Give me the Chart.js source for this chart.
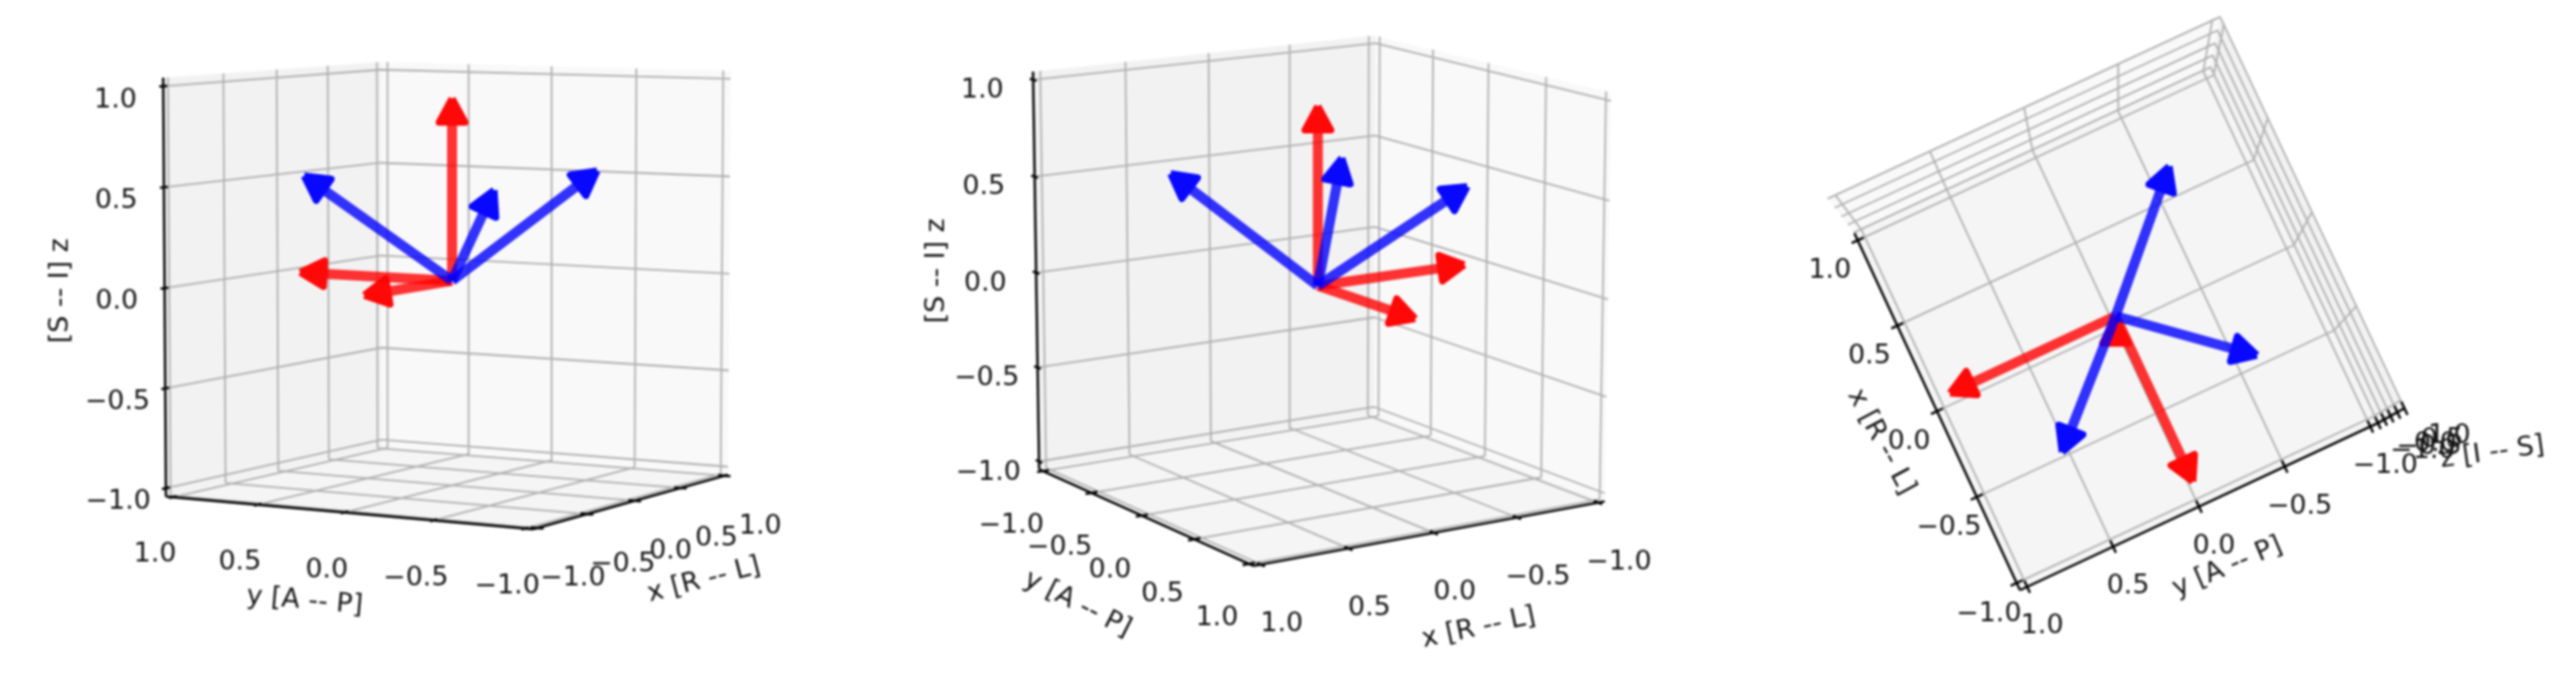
<!DOCTYPE html>
<html>
<head>
<meta charset="utf-8">
<title>Orientation axes</title>
<script src="https://cdn.jsdelivr.net/npm/chart.js@4/dist/chart.umd.min.js"></script>
<style>
    html, body { margin: 0; padding: 0; background: #fff; overflow: hidden; }
    canvas { position: absolute; top: 0; filter: blur(0.9px); }
</style>
</head>
<body>
<canvas id="panelA" width="860" height="682" style="left:0"></canvas>
<canvas id="panelB" width="860" height="682" style="left:860px"></canvas>
<canvas id="panelC" width="860" height="682" style="left:1727px"></canvas>
<script>
// Axis ticks, the same on x, y and z in all three views
const tickValues = [-1, -0.5, 0, 0.5, 1];
const tickLabels = ['\u22121.0', '\u22120.5', '0.0', '0.5', '1.0'];

// Arrow end points [x, y, z], all start at the origin
const redVectors = [[-1, 0, 0], [0, 1, 0], [0, 0, 1]];
const blueVectors = [[0.58, -0.59, 0.59], [-0.58, 0.59, 0.59], [-0.55, -0.59, 0.585]];

// Axis limits (matplotlib style margin around +-1)
const LIM = 1.0417;
const DIST = 10;
const FONT_SIZE = 27;

const views = [
    {
        id: 'panelA', elev: 5.5, azim: -150, cx: 454, cy: 282, sx: 415, sy: 415,
        xAxisY: -LIM, yAxisX: -LIM, zCorner: [-LIM, LIM], zDir: [1, 0, 0],
        xOff: [36, 51], yOff: [-18, 58], zOff: [-48, 14],
        xLabel: { text: 'x [R -- L]', x: 707, y: 583, rot: -14.5 },
        yLabel: { text: 'y [A -- P]', x: 306, y: 604, rot: 5 },
        zLabel: { text: '[S -- I] z', x: 61, y: 292, rot: -90 }
    },
    {
        id: 'panelB', elev: 12.7, azim: 57, cx: 463.5, cy: 287, sx: 415, sy: 415,
        xAxisY: LIM, yAxisX: LIM, zCorner: [LIM, -LIM], zDir: [0, 1, 0],
        xOff: [21, 60], yOff: [-32, 55], zOff: [-51, 11],
        xLabel: { text: 'x [R -- L]', x: 625, y: 631, rot: -12 },
        yLabel: { text: 'y [A -- P]', x: 222, y: 607, rot: 27 },
        zLabel: { text: '[S -- I] z', x: 81, y: 272, rot: -90 }
    },
    {
        id: 'panelC', elev: 86.5, azim: 155, cx: 397.6, cy: 317.5, sx: 415, sy: 415,
        xAxisY: LIM, yAxisX: -LIM, zCorner: [-LIM, -LIM], zDir: [1, 0, 0],
        xOff: [-28, 31], yOff: [15, 40], zOff: [45, 28],
        xLabel: { text: 'x [R -- L]', x: 162, y: 444, rot: 62 },
        yLabel: { text: 'y [A -- P]', x: 510, y: 570, rot: -23 },
        zLabel: { text: 'z [I -- S]', x: 776, y: 455, rot: -8 }
    }
];

// Camera projection of a data point to canvas position
function project(p, v) {
    const e = v.elev * Math.PI / 180, a = v.azim * Math.PI / 180;
    const q = p.map(c => c / (2 * LIM));
    const n = [Math.cos(e) * Math.cos(a), Math.cos(e) * Math.sin(a), Math.sin(e)];
    const u = [-Math.sin(a), Math.cos(a), 0];
    const w = [-Math.sin(e) * Math.cos(a), -Math.sin(e) * Math.sin(a), Math.cos(e)];
    const dot = (s, t) => s[0] * t[0] + s[1] * t[1] + s[2] * t[2];
    const f = DIST / (DIST - dot(q, n));
    return { x: v.cx + v.sx * dot(q, u) * f, y: v.cy - v.sy * dot(q, w) * f };
}

const GAP = { x: NaN, y: NaN };

function lineSet(points, color, width) {
    return { data: points, showLine: true, borderColor: color, borderWidth: width, pointRadius: 0, fill: false };
}

function polygonSet(points, fillColor) {
    return {
        data: points.concat([points[0]]), showLine: true, fill: 'shape', backgroundColor: fillColor,
        borderColor: 'rgba(0,0,0,0)', borderWidth: 0, pointRadius: 0
    };
}

function arrowSets(vec, v, shaftColor, headColor) {
    const tail = project([0, 0, 0], v);
    const tip = project(vec, v);
    let dx = tip.x - tail.x, dy = tip.y - tail.y;
    const len = Math.hypot(dx, dy) || 1;
    dx /= len; dy /= len;
    // arrows stop short of their end point, as in the original
    const end = { x: tip.x - dx * 16, y: tip.y - dy * 16 };
    const HEAD_LEN = 24, HEAD_W = 13;
    const baseX = end.x - dx * HEAD_LEN, baseY = end.y - dy * HEAD_LEN;
    const head = [
        end,
        { x: baseX - dy * HEAD_W, y: baseY + dx * HEAD_W },
        { x: baseX + dy * HEAD_W, y: baseY - dx * HEAD_W }
    ];
    const shaft = lineSet([tail, { x: baseX, y: baseY }], shaftColor, 10);
    const tipSet = polygonSet(head, headColor);
    tipSet.borderColor = headColor;
    tipSet.borderWidth = 7;
    tipSet.borderJoinStyle = 'round';
    return [shaft, tipSet];
}

function buildDatasets(v) {
    const a = v.azim * Math.PI / 180;
    // panes sit on the sides facing away from the camera
    const xb = Math.cos(a) > 0 ? -LIM : LIM;
    const yb = Math.sin(a) > 0 ? -LIM : LIM;
    const zb = -LIM;
    const P = p => project(p, v);
    const sets = [];

    sets.push(polygonSet([[xb, -LIM, -LIM], [xb, LIM, -LIM], [xb, LIM, LIM], [xb, -LIM, LIM]].map(P), '#f9f9f9'));
    sets.push(polygonSet([[-LIM, yb, -LIM], [LIM, yb, -LIM], [LIM, yb, LIM], [-LIM, yb, LIM]].map(P), '#f2f2f2'));
    sets.push(polygonSet([[-LIM, -LIM, zb], [LIM, -LIM, zb], [LIM, LIM, zb], [-LIM, LIM, zb]].map(P), '#f5f5f5'));

    // grid lines on the three panes
    const grid = [];
    const addGrid = (s, t) => { grid.push(P(s), P(t), GAP); };
    tickValues.forEach(t => {
        addGrid([t, -LIM, zb], [t, LIM, zb]);
        addGrid([t, yb, -LIM], [t, yb, LIM]);
        addGrid([-LIM, t, zb], [LIM, t, zb]);
        addGrid([xb, t, -LIM], [xb, t, LIM]);
        addGrid([xb, -LIM, t], [xb, LIM, t]);
        addGrid([-LIM, yb, t], [LIM, yb, t]);
    });
    sets.push(lineSet(grid, '#b0b0b0', 1.8));

    // axis lines with their tick marks
    const zx = v.zCorner[0], zy = v.zCorner[1];
    const ay = v.xAxisY, bx = v.yAxisX;
    const axes = [];
    const addAxis = (s, t) => { axes.push(P(s), P(t), GAP); };
    const TICK = 0.035;
    addAxis([-LIM, ay, zb], [LIM, ay, zb]);
    addAxis([bx, -LIM, zb], [bx, LIM, zb]);
    addAxis([zx, zy, -LIM], [zx, zy, LIM]);
    tickValues.forEach(t => {
        addAxis([t, ay - TICK, zb], [t, ay + TICK, zb]);
        addAxis([bx - TICK, t, zb], [bx + TICK, t, zb]);
        addAxis([zx - TICK * v.zDir[0], zy - TICK * v.zDir[1], t], [zx + TICK * v.zDir[0], zy + TICK * v.zDir[1], t]);
    });
    sets.push(lineSet(axes, '#000000', 2.4));

    // arrows, red below blue
    redVectors.forEach(r => sets.push(...arrowSets(r, v, 'rgba(255,0,0,0.8)', 'rgb(255,8,8)')));
    blueVectors.forEach(b => sets.push(...arrowSets(b, v, 'rgba(0,0,255,0.8)', 'rgb(8,8,255)')));

    // first dataset is drawn on top in Chart.js
    return sets.reverse();
}

function buildTexts(v) {
    const texts = [];
    tickValues.forEach((t, i) => {
        const px = project([t, v.xAxisY, -LIM], v);
        texts.push({ text: tickLabels[i], x: px.x + v.xOff[0], y: px.y + v.xOff[1], rot: 0 });
        const py = project([v.yAxisX, t, -LIM], v);
        texts.push({ text: tickLabels[i], x: py.x + v.yOff[0], y: py.y + v.yOff[1], rot: 0 });
        const pz = project([v.zCorner[0], v.zCorner[1], t], v);
        texts.push({ text: tickLabels[i], x: pz.x + v.zOff[0], y: pz.y + v.zOff[1], rot: 0 });
    });
    texts.push(v.xLabel, v.yLabel, v.zLabel);
    return texts;
}

const textPlugin = {
    id: 'panelText',
    afterDraw(chart, args, opts) {
        const ctx = chart.ctx;
        ctx.save();
        ctx.fillStyle = '#141414';
        ctx.font = FONT_SIZE + 'px "DejaVu Sans"';
        ctx.textAlign = 'center';
        ctx.textBaseline = 'middle';
        opts.texts.forEach(t => {
            ctx.save();
            ctx.translate(chart.scales.x.getPixelForValue(t.x), chart.scales.y.getPixelForValue(t.y));
            ctx.rotate(t.rot * Math.PI / 180);
            ctx.fillText(t.text, 0, 0);
            ctx.restore();
        });
        ctx.restore();
    }
};

views.forEach(v => {
    new Chart(document.getElementById(v.id), {
        type: 'scatter',
        data: { datasets: buildDatasets(v) },
        plugins: [textPlugin],
        options: {
            responsive: false,
            animation: false,
            events: [],
            layout: { padding: 0 },
            elements: { line: { tension: 0 } },
            plugins: {
                legend: { display: false },
                tooltip: { enabled: false },
                panelText: { texts: buildTexts(v) }
            },
            scales: {
                x: { type: 'linear', display: false, min: 0, max: 860 },
                y: { type: 'linear', display: false, min: 0, max: 682, reverse: true }
            }
        }
    });
});
</script>
</body>
</html>
